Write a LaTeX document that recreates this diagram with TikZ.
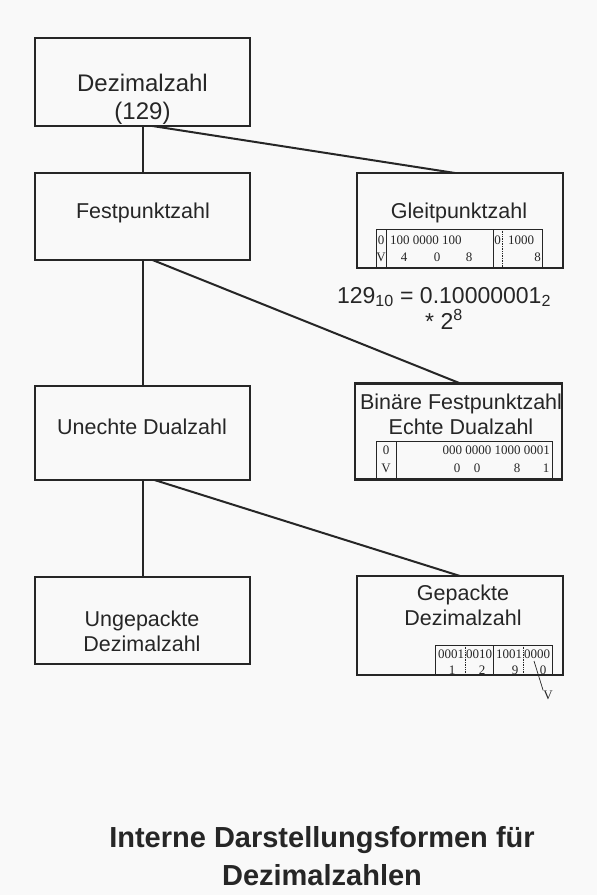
\documentclass[tikz,border=0pt]{standalone}
\usepackage{fontspec}
\setmainfont{Liberation Sans}
\newfontfamily\tabfont{Liberation Serif}
\definecolor{inkgray}{RGB}{38,38,38}
\definecolor{papergray}{RGB}{249,249,249}

\tikzset{
  box/.style={draw=inkgray, line width=2.4pt, inner sep=0pt, outer sep=0pt},
  boxtext/.style={text=inkgray, align=center, inner sep=0pt,
    font=\fontsize{21.5}{25}\selectfont},
  link/.style={draw=inkgray, line width=2pt},
  tabline/.style={draw=inkgray, line width=0.7pt},
  tabtxt/.style={text=inkgray, inner sep=0pt, font=\tabfont\fontsize{13}{13}\selectfont}
}

\begin{document}
\begin{tikzpicture}[x=1pt, y=-1pt]
  \fill[papergray] (0,0) rectangle (597,895);
  \useasboundingbox (0,0) rectangle (597,895);

  % left column
  \node[box, minimum width=215pt, minimum height=88pt] (dez) at (142.5,82) {};
  \node[box, minimum width=215pt, minimum height=87pt] (fest) at (142.5,216.5) {};
  \node[box, minimum width=215pt, minimum height=94pt] (unecht) at (142.5,433) {};
  \node[box, minimum width=215pt, minimum height=87pt] (unge) at (142.5,620.5) {};

  \node[boxtext, font=\fontsize{24}{28}\selectfont] (dezt) at (142.5,99) {Dezimalzahl\\(129)};
  \node[boxtext] (festt) at (143,213) {Festpunktzahl};
  \node[boxtext] (unechtt) at (142,427) {Unechte Dualzahl};
  \node[boxtext] (unget) at (142,631) {Ungepackte\\Dezimalzahl};

  % right column
  \node[box, minimum width=206pt, minimum height=95pt] (gleit) at (460,220.5) {};
  \node[box, minimum width=207pt, minimum height=96pt] (bin) at (458.5,431.5) {};
  \node[box, minimum width=206pt, minimum height=99pt] (gep) at (460,625.5) {};

  \node[boxtext] (gleitt) at (459,213) {Gleitpunktzahl};
  \node[boxtext] (bint) at (461,414) {Binäre Festpunktzahl\\Echte Dualzahl};
  \node[boxtext] (gept) at (463,605) {Gepackte\\Dezimalzahl};

  % connectors
  \draw[link] (dez.south) -- (fest.north);
  \draw[link] (fest.south) -- (unecht.north);
  \draw[link] (unecht.south) -- (unge.north);
  \draw[link] ([xshift=10pt]dez.south) -- ([xshift=-5pt]gleit.north);
  \draw[link] ([xshift=10pt]fest.south) -- ([xshift=2pt]bin.north);
  \draw[link] ([xshift=12pt]unecht.south) -- (gep.north);

  % Gleitpunktzahl table
  \draw[tabline] (376,268) |- (542,229) -- (542,268);
  \draw[tabline] (386,229) -- (386,268) (493,229) -- (493,268);
  \draw[tabline, densely dotted] (502,229) -- (502,268);
  \node[tabtxt, anchor=base] (gs0) at (381,244) {0};
  \node[tabtxt, anchor=base west] (gm0) at (390,244) {100 0000 100};
  \node[tabtxt, anchor=base] (ge0) at (497.5,244) {0};
  \node[tabtxt, anchor=base west] (gx0) at (508,244) {1000};
  \node[tabtxt, anchor=base] (gs1) at (381,261) {V};
  \node[tabtxt, anchor=base] (gm1) at (404,261) {4};
  \node[tabtxt, anchor=base] (gm2) at (437,261) {0};
  \node[tabtxt, anchor=base] (gm3) at (469,261) {8};
  \node[tabtxt, anchor=base east] (gx1) at (541,261) {8};

  \node[text=inkgray, align=center, inner sep=0pt, font=\fontsize{23}{26}\selectfont]
    (formel) at (444,308) {129\textsubscript{10} = 0.10000001\textsubscript{2}\\* 2\textsuperscript{8}};

  % Binaere Festpunktzahl table
  \draw[tabline] (376,479) |- (552,441) -- (552,479);
  \draw[tabline] (396,441) -- (396,479);
  \node[tabtxt, anchor=base] (bs0) at (386,454) {0};
  \node[tabtxt, anchor=base east] (bm0) at (550,454) {000 0000 1000 0001};
  \node[tabtxt, anchor=base] (bs1) at (386,472) {V};
  \node[tabtxt, anchor=base] (bm1) at (457,472) {0};
  \node[tabtxt, anchor=base] (bm2) at (477,472) {0};
  \node[tabtxt, anchor=base] (bm3) at (517,472) {8};
  \node[tabtxt, anchor=base] (bm4) at (546,472) {1};

  % Gepackte Dezimalzahl table
  \draw[tabline] (435,675) |- (552,645) -- (552,675);
  \draw[tabline] (493,645) -- (493,675);
  \draw[tabline, densely dotted] (465,645) -- (465,675) (523,645) -- (523,675);
  \node[tabtxt, anchor=base] (pb1) at (451,658) {0001};
  \node[tabtxt, anchor=base] (pb2) at (479,658) {0010};
  \node[tabtxt, anchor=base] (pb3) at (509,658) {1001};
  \node[tabtxt, anchor=base] (pb4) at (537,658) {0000};
  \node[tabtxt, anchor=base] (pd1) at (452,674) {1};
  \node[tabtxt, anchor=base] (pd2) at (482,674) {2};
  \node[tabtxt, anchor=base] (pd3) at (515,674) {9};
  \node[tabtxt, anchor=base] (pd4) at (543,674) {0};
  \coordinate (slashtop) at (534,661);
  \node[tabtxt, anchor=base] (vorz) at (548,699) {V};
  \draw[tabline] (slashtop) -- (vorz.north west);

  % title
  \node[text=inkgray, align=center, inner sep=0pt, font=\bfseries\fontsize{29}{38}\selectfont]
    (titel) at (322,856) {Interne Darstellungsformen für\\Dezimalzahlen};
\end{tikzpicture}
\end{document}
